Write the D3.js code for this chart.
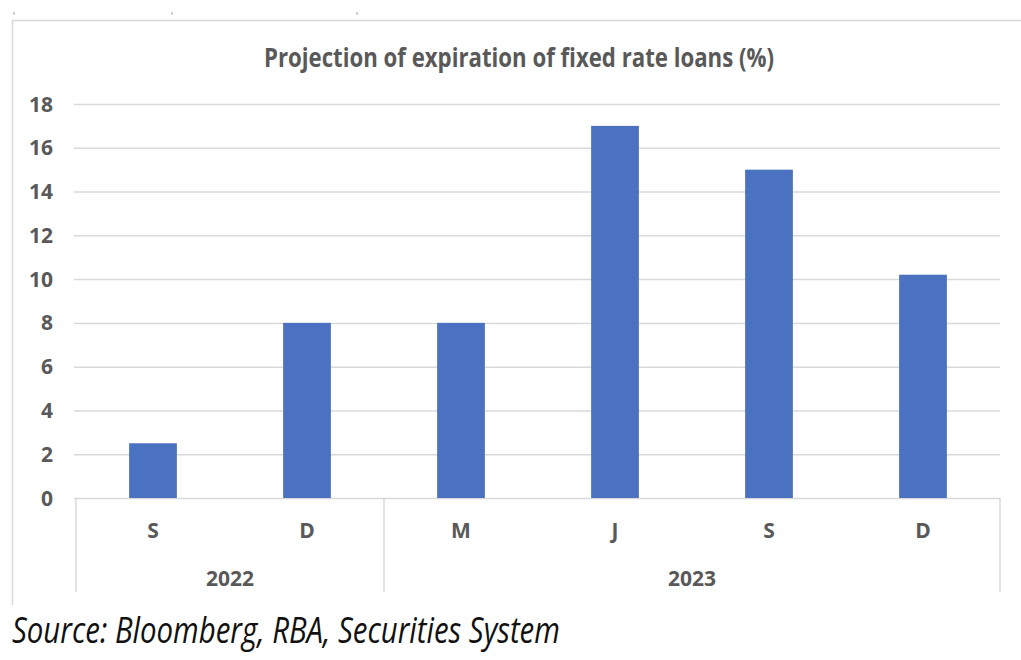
<!DOCTYPE html>
<html lang="en">
<head>
    <meta charset="UTF-8">
    <title>Projection of expiration of fixed rate loans (%)</title>
    <script src="https://d3js.org/d3.v7.min.js"></script>
    <style>
        body {
            margin: 0;
            background: #ffffff;
        }
        svg {
            display: block;
            font-family: "Open Sans", "Noto Sans", sans-serif;
        }
        .grid line {
            stroke: #d9d9d9;
            stroke-width: 1.5;
        }
        .tick-label {
            fill: #595959;
            font-size: 21px;
            font-weight: bold;
        }
        .frame {
            fill: none;
            stroke: #d9d9d9;
            stroke-width: 1.5;
        }
    </style>
</head>
<body>
    <svg id="chart" width="1021" height="660"></svg>
    <script>
        // data
        const months = ["S", "D", "M", "J", "S", "D"];
        const years = ["2022", "2022", "2023", "2023", "2023", "2023"];
        const values = [2.5, 8, 8, 17, 15, 10.2];
        const yTicks = [0, 2, 4, 6, 8, 10, 12, 14, 16, 18];
        const title = "Projection of expiration of fixed rate loans (%)";
        const source = "Source: Bloomberg, RBA, Securities System";

        const svg = d3.select("#chart");

        const plot = { left: 76, right: 1000, top: 104, bottom: 498 };
        const barShare = 0.31;

        const x = d3.scaleBand()
            .domain(d3.range(months.length))
            .range([plot.left, plot.right]);

        const y = d3.scaleLinear()
            .domain([0, 18])
            .range([plot.bottom, plot.top]);

        // outer frame of the chart area (left and top edges only show)
        svg.append("path")
            .attr("class", "frame")
            .attr("d", "M12.5,605 V20.5 H1021");

        // small crop marks along the very top
        [14, 172, 357].forEach(cx => {
            svg.append("rect")
                .attr("x", cx - 1)
                .attr("y", 12)
                .attr("width", 2)
                .attr("height", 3)
                .attr("fill", "#d0d0d0");
        });

        // gridlines and y labels
        const grid = svg.append("g")
            .attr("class", "grid")
            .attr("transform", `translate(${plot.right},0)`)
            .call(d3.axisLeft(y)
                .tickValues(yTicks)
                .tickSize(plot.right - plot.left + 2)
                .tickFormat(""));
        grid.select(".domain").remove();

        svg.append("g")
            .selectAll("text")
            .data(yTicks)
            .join("text")
            .attr("class", "tick-label")
            .attr("x", 53)
            .attr("y", d => y(d))
            .attr("dy", "0.36em")
            .attr("text-anchor", "end")
            .text(d => d);

        // bars
        svg.append("g")
            .selectAll("rect")
            .data(values)
            .join("rect")
            .attr("x", (d, i) => x(i) + x.bandwidth() * (1 - barShare) / 2)
            .attr("width", x.bandwidth() * barShare)
            .attr("y", d => y(d))
            .attr("height", d => y(0) - y(d))
            .attr("fill", "#4a72c0");

        // month labels
        svg.append("g")
            .selectAll("text")
            .data(months)
            .join("text")
            .attr("class", "tick-label")
            .attr("x", (d, i) => x(i) + x.bandwidth() / 2)
            .attr("y", 530)
            .attr("dy", "0.36em")
            .attr("text-anchor", "middle")
            .text(d => d);

        // year groups with separators
        const groups = [];
        years.forEach((yr, i) => {
            const last = groups[groups.length - 1];
            if (last && last.year === yr) last.end = i;
            else groups.push({ year: yr, start: i, end: i });
        });

        const sepBottom = 592;
        const edges = groups.map(g => x(g.start)).concat([x(groups[groups.length - 1].end) + x.bandwidth()]);
        svg.append("g")
            .selectAll("line")
            .data(edges)
            .join("line")
            .attr("x1", d => d)
            .attr("x2", d => d)
            .attr("y1", y(0))
            .attr("y2", sepBottom)
            .attr("stroke", "#d9d9d9")
            .attr("stroke-width", 1.5);

        svg.append("g")
            .selectAll("text")
            .data(groups)
            .join("text")
            .attr("class", "tick-label")
            .attr("x", g => (x(g.start) + x(g.end) + x.bandwidth()) / 2)
            .attr("y", 578)
            .attr("dy", "0.36em")
            .attr("text-anchor", "middle")
            .text(g => g.year);

        // title, fitted to the width it takes in the picture, stretched a bit
        // vertically because the original face is narrower than Open Sans
        const titleText = svg.append("text")
            .attr("transform", "translate(519,67) scale(1,1.2)")
            .attr("text-anchor", "middle")
            .attr("fill", "#595959")
            .attr("font-weight", "bold")
            .attr("font-size", 20)
            .text(title);
        const tw = titleText.node().getComputedTextLength();
        titleText.attr("font-size", 20 * 510 / tw);

        // source note
        const srcText = svg.append("text")
            .attr("transform", "translate(12,643) scale(1,1.22)")
            .attr("fill", "#111111")
            .attr("font-style", "italic")
            .attr("font-size", 26)
            .text(source);
        const sw = srcText.node().getComputedTextLength();
        srcText.attr("font-size", 26 * 548 / sw);
    </script>
</body>
</html>
